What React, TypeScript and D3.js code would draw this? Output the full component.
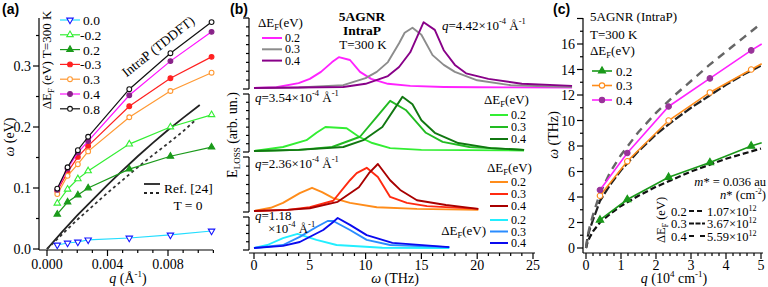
import React from 'react';
import * as d3 from 'd3';

const SERIF = '"Liberation Serif", "Times New Roman", serif';
const SANS = '"Liberation Sans", Arial, sans-serif';

// ---------------- Panel (a) data ----------------
const aQ = [0.00068, 0.00136, 0.00204, 0.00272, 0.00544, 0.00816, 0.01088];
const aLabels = ['0.0', '-0.2', '0.2', '-0.3', '0.3', '0.4', '0.8'];
const aW00 = [0.0066, 0.0098, 0.0115, 0.015, 0.018, 0.023, 0.0295];
const aWm02 = [0.075, 0.098, 0.115, 0.128, 0.172, 0.2, 0.22];
const aW02 = [0.057, 0.077, 0.0885, 0.1, 0.131, 0.152, 0.167];
const aWm03 = [0.095, 0.126, 0.151, 0.169, 0.234, 0.28, 0.315];
const aW03 = [0.09, 0.12, 0.139, 0.16, 0.216, 0.259, 0.289];
const aW04 = [0.097, 0.132, 0.158, 0.177, 0.252, 0.308, 0.356];
const aW08 = [0.099, 0.134, 0.162, 0.184, 0.262, 0.321, 0.372];
const aRefQ = [0, 0.001, 0.002, 0.003, 0.004, 0.005, 0.006, 0.007, 0.008, 0.009, 0.0101];
const aRefW = [0, 0.028, 0.055, 0.08, 0.105, 0.129, 0.152, 0.174, 0.195, 0.215, 0.236];
const aT0Q = [0, 0.001, 0.002, 0.003, 0.004, 0.005, 0.006, 0.007, 0.008, 0.009, 0.0098];
const aT0W = [0, 0.024, 0.048, 0.07, 0.092, 0.113, 0.134, 0.154, 0.173, 0.193, 0.211];
const aXTicks = [0, 0.004, 0.008];
const aYTicks = [0, 0.1, 0.2, 0.3];

// ---------------- Panel (b) data ----------------
const bXTicks = [0, 5, 10, 15, 20, 25];
const bDE = ['0.2', '0.3', '0.4'];
// q = 4.42e-4
const b4W02 = [0, 2, 4, 5, 6, 7, 7.6, 8.6, 9.5, 10.5, 12, 14, 17, 20, 28.5];
const b4I02 = [0, 0.01, 0.07, 0.13, 0.23, 0.37, 0.44, 0.4, 0.23, 0.13, 0.06, 0.03, 0.015, 0.01, 0.005];
const b4W03 = [0, 4, 8, 10, 11, 12, 13, 13.5, 14.2, 15, 16, 17, 18, 20, 23, 28.5];
const b4I03 = [0, 0.007, 0.04, 0.14, 0.23, 0.37, 0.64, 0.79, 0.86, 0.76, 0.47, 0.33, 0.23, 0.11, 0.04, 0.015];
const b4W04 = [0, 4, 8, 10, 12, 13, 14, 15.2, 16.2, 17, 18, 19, 21, 24, 28.5];
const b4I04 = [0, 0.007, 0.015, 0.06, 0.17, 0.3, 0.51, 0.94, 0.83, 0.54, 0.33, 0.21, 0.13, 0.06, 0.03];
// q = 3.54e-4
const b3W02 = [0, 2.6, 4.7, 5.6, 6.4, 8.3, 9.4, 10.6, 12.2, 15, 24.2];
const b3I02 = [0, 0.07, 0.19, 0.32, 0.42, 0.4, 0.25, 0.14, 0.05, 0.02, 0.01];
const b3W03 = [0, 4, 7, 9.5, 11, 12.2, 13.6, 15.4, 16.9, 19.3, 24.2];
const b3I03 = [0, 0.02, 0.07, 0.25, 0.6, 0.88, 0.72, 0.32, 0.16, 0.07, 0.02];
const b3W04 = [0, 4, 8, 9.8, 11.5, 13.3, 14.2, 15, 16.2, 18.3, 21.2, 24.2];
const b3I04 = [0, 0.02, 0.07, 0.19, 0.42, 0.95, 0.82, 0.54, 0.32, 0.14, 0.05, 0.02];
// q = 2.36e-4
const b2W02 = [0, 1.5, 2.6, 4.1, 5.2, 6.1, 7.1, 8.6, 11, 14.6, 20.1];
const b2I02 = [0, 0.06, 0.15, 0.33, 0.43, 0.35, 0.24, 0.15, 0.07, 0.04, 0.02];
const b2W03 = [0, 3, 5, 7.1, 8.6, 9.2, 10.1, 11.1, 12.2, 13.7, 15.5, 20.1];
const b2I03 = [0, 0.02, 0.07, 0.19, 0.57, 0.7, 0.8, 0.63, 0.26, 0.15, 0.09, 0.04];
const b2W04 = [0, 3, 5, 7.5, 9.4, 10.3, 11.1, 12.2, 13.1, 14.6, 17.2, 20.1];
const b2I04 = [0, 0.02, 0.05, 0.17, 0.44, 0.7, 0.87, 0.57, 0.39, 0.2, 0.11, 0.04];
// q = 1.18e-4
const b1W02 = [0, 1.2, 2.6, 3.9, 5.6, 7.4, 11.5, 17.5];
const b1I02 = [0, 0.1, 0.33, 0.47, 0.27, 0.1, 0.01, 0.0];
const b1W03 = [0, 2.6, 4.1, 5.6, 6.6, 7.1, 8.6, 10.1, 12.2, 17.5];
const b1I03 = [0, 0.1, 0.37, 0.7, 0.9, 0.9, 0.6, 0.27, 0.1, 0.03];
const b1W04 = [0, 2.6, 4.1, 6.2, 7.1, 7.5, 8.6, 10.1, 12.4, 17.5];
const b1I04 = [0, 0.07, 0.2, 0.6, 0.87, 1.0, 0.77, 0.43, 0.17, 0.03];

// ---------------- Panel (c) data ----------------
const cQ = [0.4, 1.18, 2.36, 3.54, 4.72];
const cW02 = [2.2, 3.8, 5.55, 6.7, 8.0];
const cW03 = [4.1, 6.8, 10.0, 12.2, 14.0];
const cW04 = [4.55, 7.45, 11.1, 13.3, 15.5];
const cEndQ = 5.02;
const cEndW = [8.25, 14.45, 16.0];
const cModQ = [0, 0.05, 0.1, 0.2, 0.4, 0.7, 1.0, 1.5, 2.0, 2.5, 3.0, 3.5, 4.0, 4.5, 5.0];
const cMod02 = [0, 0.5, 0.8, 1.3, 2.0, 2.7, 3.3, 4.1, 4.8, 5.4, 6.0, 6.5, 7.0, 7.4, 7.8];
const cMod03 = [0, 0.9, 1.4, 2.2, 3.7, 5.0, 6.1, 7.6, 8.9, 10.0, 11.0, 11.9, 12.8, 13.6, 14.3];
const cMod04 = [0, 1.0, 1.6, 2.6, 4.3, 6.0, 7.3, 9.1, 10.6, 11.9, 13.1, 14.3, 15.4, 16.5, 17.6];
const cDensity = ['1.07', '3.67', '5.59'];
const cXTicks = [0, 1, 2, 3, 4, 5];
const cYTicks = [0, 2, 4, 6, 8, 10, 12, 14, 16];

// ---------- helpers ----------
const zip = (xs: number[], ys: number[]) => xs.map((x, i) => [x, ys[i]] as [number, number]);

function Marker({ x, y, shape, color, fill, size = 30 }: any) {
  const type = shape === 'circle' ? d3.symbolCircle : d3.symbolTriangle;
  const p = d3.symbol().type(type).size(size)();
  const rot = shape === 'tridown' ? 180 : 0;
  return (
    <path d={p as string} transform={`translate(${x},${y}) rotate(${rot})`}
      fill={fill ? color : '#fff'} stroke={color} strokeWidth={1.1} />
  );
}

function DeltaEF({ x, y, size = 13, anchor = 'start', transform }: any) {
  return (
    <text x={x} y={y} fontSize={size} textAnchor={anchor} transform={transform} fontFamily={SERIF}>
      ΔE<tspan fontSize="8.5" dy="3">F</tspan><tspan dy="-3">(eV)</tspan>
    </text>
  );
}

function QLabel({ x, y, val }: any) {
  return (
    <text x={x} y={y} fontSize={13} fontFamily={SERIF}>
      <tspan fontStyle="italic">q</tspan>={val}×10<tspan fontSize="8.5" dy="-6">-4</tspan>
      <tspan dy="6"> Å</tspan><tspan fontSize="8.5" dy="-6">-1</tspan>
    </text>
  );
}

export default function App() {
  // ---- Panel (a) ----
  const ax = d3.scaleLinear().domain([0, 0.008]).range([47, 168]);
  const ay = d3.scaleLinear().domain([0, 0.1]).range([249, 188]);
  const aLine = d3.line<[number, number]>().x(d => ax(d[0])).y(d => ay(d[1]));
  const aSeries = [
    { lab: aLabels[0], v: aW00, line: '#22ddff', mk: '#1414ff', shape: 'tridown', fill: false },
    { lab: aLabels[1], v: aWm02, line: '#33ee33', mk: '#33ee33', shape: 'tri', fill: false },
    { lab: aLabels[2], v: aW02, line: '#1a9a1a', mk: '#1a9a1a', shape: 'tri', fill: true },
    { lab: aLabels[3], v: aWm03, line: '#ff2020', mk: '#ff2020', shape: 'circle', fill: true },
    { lab: aLabels[4], v: aW03, line: '#ff9933', mk: '#ff9933', shape: 'circle', fill: false },
    { lab: aLabels[5], v: aW04, line: '#ff11ff', mk: '#882288', shape: 'circle', fill: true },
    { lab: aLabels[6], v: aW08, line: '#111', mk: '#111', shape: 'circle', fill: false },
  ];
  const aXMinor = d3.range(0, 0.01101, 0.001);
  const aYMinor = d3.range(0, 0.3501, 0.05);

  // ---- Panel (b) ----
  const bx = d3.scaleLinear().domain([0, 25]).range([254, 533]);
  const bPanels = [
    { base: 88, top: 18, q: '4.42', curves: [[b4W02, b4I02, '#ff22ff'], [b4W03, b4I03, '#8c8c8c'], [b4W04, b4I04, '#880088']] },
    { base: 151, top: 94, q: '3.54', curves: [[b3W02, b3I02, '#33ee33'], [b3W03, b3I03, '#22bb22'], [b3W04, b3I04, '#117711']] },
    { base: 211, top: 157, q: '2.36', curves: [[b2W02, b2I02, '#ff8c1a'], [b2W03, b2I03, '#ff2a10'], [b2W04, b2I04, '#a80000']] },
    { base: 248, top: 218, q: '1.18', curves: [[b1W02, b1I02, '#22eeff'], [b1W03, b1I03, '#2a8cff'], [b1W04, b1I04, '#0a0aee']] },
  ];
  const bSegs = [[18, 89], [94, 152], [157, 212], [217, 250]];

  // ---- Panel (c) ----
  const cx = d3.scaleLinear().domain([0, 5]).range([586, 761]);
  const cy = d3.scaleLinear().domain([0, 18]).range([248, 18.5]);
  const cLine = d3.line<[number, number]>().x(d => cx(d[0])).y(d => cy(d[1]));
  const cSeries = [
    { lab: bDE[0], v: cW02, end: cEndW[0], line: '#1a991a', mk: '#1a991a', shape: 'tri', fill: true },
    { lab: bDE[1], v: cW03, end: cEndW[1], line: '#ff8c1a', mk: '#ff8c1a', shape: 'circle', fill: false },
    { lab: bDE[2], v: cW04, end: cEndW[2], line: '#ff22ff', mk: '#993399', shape: 'circle', fill: true },
  ];
  const cMods = [
    { v: cMod02, color: '#111', dash: '6,3', w: 2.2 },
    { v: cMod03, color: '#222', dash: '9,2.5', w: 2.2 },
    { v: cMod04, color: '#666', dash: '8,6', w: 2.4 },
  ];
  const cXMinor = d3.range(0, 5.001, 0.2);
  const cYMinor = d3.range(0, 18.001, 1);

  const tick = { stroke: '#000', strokeWidth: 1.2 };

  return (
    <div style={{ position: 'absolute', left: 0, top: 0 }}>
      <svg width={768} height={287} style={{ display: 'block', background: '#fff' }} fontFamily={SERIF}>
        {/* ================= Panel (a) ================= */}
        <text x={2} y={14} fontFamily={SANS} fontWeight="bold" fontSize={14}>(a)</text>
        <line x1={39} y1={18} x2={39} y2={250} {...tick} />
        <line x1={39} y1={250} x2={213} y2={250} {...tick} />
        {aYMinor.map((v, i) => (
          <line key={'aym' + i} x1={39} x2={i % 2 === 0 ? 33 : 36} y1={ay(v)} y2={ay(v)} {...tick} />
        ))}
        {aYTicks.map(v => (
          <text key={'ayt' + v} x={31} y={ay(v) + 5} fontSize={14} textAnchor="end">{v.toFixed(1)}</text>
        ))}
        {aXMinor.map((v, i) => (
          <line key={'axm' + i} y1={250} y2={i % 4 === 0 ? 256 : 253} x1={ax(v)} x2={ax(v)} {...tick} />
        ))}
        {aXTicks.map(v => (
          <text key={'axt' + v} x={ax(v)} y={269} fontSize={14} textAnchor="middle">{v.toFixed(3)}</text>
        ))}
        <text transform="translate(14,137) rotate(-90)" fontSize={14} textAnchor="middle">
          <tspan fontStyle="italic">ω</tspan> (eV)
        </text>
        <text x={128} y={283} fontSize={14} textAnchor="middle">
          <tspan fontStyle="italic">q</tspan> (Å<tspan fontSize="9" dy="-6">-1</tspan><tspan dy="6">)</tspan>
        </text>
        {/* reference lines */}
        <path d={aLine(zip(aRefQ, aRefW)) as string} fill="none" stroke="#222" strokeWidth={1.8} />
        <path d={aLine(zip(aT0Q, aT0W)) as string} fill="none" stroke="#333" strokeWidth={1.8} strokeDasharray="3,3" />
        {aSeries.map((s, si) => (
          <g key={'as' + si}>
            <path d={aLine(zip(aQ, s.v)) as string} fill="none" stroke={s.line} strokeWidth={1.2} />
            {s.v.map((v, i) => (
              <Marker key={i} x={ax(aQ[i])} y={ay(v)} shape={s.shape} color={s.mk} fill={s.fill} size={18} />
            ))}
          </g>
        ))}
        {/* legend (a) */}
        <text transform="translate(51,60) rotate(-90)" fontSize={13} textAnchor="middle">
          ΔE<tspan fontSize="8.5" dy="3">F</tspan><tspan dy="-3"> (eV) T=300 K</tspan>
        </text>
        {aSeries.map((s, i) => {
          const y = 20 + i * 14.8;
          return (
            <g key={'al' + i}>
              <line x1={60} x2={80} y1={y} y2={y} stroke={s.line} strokeWidth={1.2} />
              <Marker x={70} y={y} shape={s.shape} color={s.mk} fill={s.fill} size={18} />
              <text x={s.lab.startsWith('-') ? 80 : 83} y={y + 5} fontSize={13.5}>{s.lab}</text>
            </g>
          );
        })}
        <text transform="translate(161,50) rotate(-38.5)" fontSize={13.5} textAnchor="middle">IntraP (TDDFT)</text>
        <line x1={144} x2={160} y1={184} y2={184} stroke="#222" strokeWidth={1.8} />
        <line x1={144} x2={160} y1={193} y2={193} stroke="#222" strokeWidth={1.8} strokeDasharray="3,3" />
        <text x={164} y={193} fontSize={13.5}>Ref. [24]</text>
        <text x={188} y={210} fontSize={13.5} textAnchor="middle">T = 0</text>

        {/* ================= Panel (b) ================= */}
        <text x={230} y={14} fontFamily={SANS} fontWeight="bold" fontSize={14}>(b)</text>
        {bSegs.map(([t, b], i) => {
          const n = Math.max(1, Math.round((b - t) / 8.7));
          const step = (b - t) / n;
          return (
            <g key={'bs' + i}>
              <line x1={249} x2={249} y1={t} y2={b} {...tick} />
              {d3.range(n + 1).map(k => (
                <line key={k} x1={249} x2={k === 0 || k === n ? 243 : 246} y1={t + k * step} y2={t + k * step} {...tick} />
              ))}
            </g>
          );
        })}
        <line x1={249} x2={535} y1={253} y2={253} {...tick} />
        {d3.range(0, 26).map(v => (
          <line key={'bxm' + v} x1={bx(v)} x2={bx(v)} y1={253} y2={v % 5 === 0 ? 259 : 256} {...tick} />
        ))}
        {bXTicks.map(v => (
          <text key={'bxt' + v} x={bx(v)} y={270} fontSize={14} textAnchor="middle">{v}</text>
        ))}
        <text x={395} y={283} fontSize={14} textAnchor="middle"><tspan fontStyle="italic">ω</tspan> (THz)</text>
        <text transform="translate(237,135) rotate(-90)" fontSize={14} textAnchor="middle">
          E<tspan fontSize="9" dy="3">LOSS</tspan><tspan dy="-3"> (arb. un.)</tspan>
        </text>
        {bPanels.map((p, pi) => {
          const y = d3.scaleLinear().domain([0, 1]).range([p.base, p.top]);
          const ln = d3.line<[number, number]>().x(d => bx(d[0])).y(d => y(d[1]));
          return (
            <g key={'bp' + pi}>
              {p.curves.map((c: any, ci) => (
                <path key={ci} d={ln(zip(c[0], c[1])) as string} fill="none" stroke={c[2]} strokeWidth={1.9} strokeLinejoin="round" />
              ))}
            </g>
          );
        })}
        {/* panel b titles */}
        <text x={362} y={21} fontSize={13.5} fontWeight="bold" textAnchor="middle">5AGNR</text>
        <text x={362} y={35} fontSize={13.5} fontWeight="bold" textAnchor="middle">IntraP</text>
        <text x={363} y={49} fontSize={13} textAnchor="middle">T=300 K</text>
        {/* legends in b */}
        <DeltaEF x={258} y={27} />
        {bPanels[0].curves.map((c: any, i) => (
          <g key={'bl0' + i}>
            <line x1={262} x2={282} y1={38 + i * 11.3} y2={38 + i * 11.3} stroke={c[2]} strokeWidth={2} />
            <text x={285} y={42 + i * 11.3} fontSize={12}>{bDE[i]}</text>
          </g>
        ))}
        <QLabel x={442} y={30} val="4.42" />
        <QLabel x={255} y={102} val="3.54" />
        <QLabel x={255} y={168} val="2.36" />
        <text x={255} y={220} fontSize={13}><tspan fontStyle="italic">q</tspan>=1.18</text>
        <text x={268} y={233} fontSize={13}>×10<tspan fontSize="8.5" dy="-6">-4</tspan><tspan dy="6"> Å</tspan><tspan fontSize="8.5" dy="-6">-1</tspan></text>
        <DeltaEF x={484} y={104} />
        {bPanels[1].curves.map((c: any, i) => (
          <g key={'bl1' + i}>
            <line x1={490} x2={508} y1={115 + i * 12} y2={115 + i * 12} stroke={c[2]} strokeWidth={2} />
            <text x={511} y={119 + i * 12} fontSize={12}>{bDE[i]}</text>
          </g>
        ))}
        <DeltaEF x={487} y={172} />
        {bPanels[2].curves.map((c: any, i) => (
          <g key={'bl2' + i}>
            <line x1={490} x2={508} y1={182 + i * 12} y2={182 + i * 12} stroke={c[2]} strokeWidth={2} />
            <text x={511} y={186 + i * 12} fontSize={12}>{bDE[i]}</text>
          </g>
        ))}
        <DeltaEF x={486} y={235} anchor="end" />
        {bPanels[3].curves.map((c: any, i) => (
          <g key={'bl3' + i}>
            <line x1={490} x2={508} y1={220 + i * 11.5} y2={220 + i * 11.5} stroke={c[2]} strokeWidth={2} />
            <text x={511} y={224 + i * 11.5} fontSize={12}>{bDE[i]}</text>
          </g>
        ))}

        {/* ================= Panel (c) ================= */}
        <text x={553} y={14} fontFamily={SANS} fontWeight="bold" fontSize={14}>(c)</text>
        <line x1={583} x2={583} y1={18} y2={253} {...tick} />
        <line x1={583} x2={763} y1={253} y2={253} {...tick} />
        {cYMinor.map(v => (
          <line key={'cym' + v} x1={583} x2={v % 2 === 0 ? 577 : 580} y1={cy(v)} y2={cy(v)} {...tick} />
        ))}
        {cYTicks.map(v => (
          <text key={'cyt' + v} x={575} y={cy(v) + 5} fontSize={14} textAnchor="end">{v}</text>
        ))}
        {cXMinor.map((v, i) => (
          <line key={'cxm' + i} x1={cx(v)} x2={cx(v)} y1={253} y2={i % 5 === 0 ? 259 : 256} {...tick} />
        ))}
        {cXTicks.map(v => (
          <text key={'cxt' + v} x={cx(v)} y={270} fontSize={14} textAnchor="middle">{v}</text>
        ))}
        <text transform="translate(558,135) rotate(-90)" fontSize={14} textAnchor="middle">
          <tspan fontStyle="italic">ω</tspan> (THz)
        </text>
        <text x={674} y={283} fontSize={14} textAnchor="middle">
          <tspan fontStyle="italic">q</tspan> (10<tspan fontSize="9" dy="-6">4</tspan><tspan dy="6"> cm</tspan><tspan fontSize="9" dy="-6">-1</tspan><tspan dy="6">)</tspan>
        </text>
        {cMods.map((m, i) => (
          <path key={'cm' + i} d={cLine(zip(cModQ, m.v)) as string} fill="none" stroke={m.color} strokeWidth={m.w} strokeDasharray={m.dash} />
        ))}
        {cSeries.map((s, si) => (
          <g key={'cs' + si}>
            <path d={cLine([...zip(cQ, s.v), [cEndQ, s.end]]) as string} fill="none" stroke={s.line} strokeWidth={1.6} />
            {s.v.map((v, i) => (
              <Marker key={i} x={cx(cQ[i])} y={cy(v)} shape={s.shape} color={s.mk} fill={s.fill} size={24} />
            ))}
          </g>
        ))}
        <text x={590} y={21} fontSize={13}>5AGNR (IntraP)</text>
        <text x={590} y={39} fontSize={13}>T=300 K</text>
        <DeltaEF x={590} y={55} />
        {cSeries.map((s, i) => {
          const y = 71 + i * 14.5;
          return (
            <g key={'cl' + i}>
              <line x1={592} x2={612} y1={y} y2={y} stroke={s.line} strokeWidth={1.6} />
              <Marker x={602} y={y} shape={s.shape} color={s.mk} fill={s.fill} size={22} />
              <text x={616} y={y + 4.5} fontSize={13}>{s.lab}</text>
            </g>
          );
        })}
        <text x={766} y={186} fontSize={12.5} textAnchor="end"><tspan fontStyle="italic">m</tspan>* = 0.036 au</text>
        <text x={766} y={199} fontSize={12.5} textAnchor="end">
          <tspan fontStyle="italic">n</tspan>* (cm<tspan fontSize="8" dy="-5">-2</tspan><tspan dy="5">)</tspan>
        </text>
        <text transform="translate(665,220) rotate(-90)" fontSize={12.5} textAnchor="middle">
          ΔE<tspan fontSize="8" dy="3">F</tspan><tspan dy="-3"> (eV)</tspan>
        </text>
        {cMods.map((m, i) => {
          const y = 211 + i * 12.5;
          return (
            <g key={'cml' + i}>
              <text x={671} y={y + 4.5} fontSize={12.5}>{bDE[i]}</text>
              <line x1={689} x2={705} y1={y} y2={y} stroke="#111" strokeWidth={2} strokeDasharray={i === 0 ? '5,3' : i === 1 ? '5,1.5' : '5,6'} />
              <text x={707} y={y + 4.5} fontSize={12.5}>{cDensity[i]}×10<tspan fontSize="8" dy="-5">12</tspan></text>
            </g>
          );
        })}
      </svg>
    </div>
  );
}
